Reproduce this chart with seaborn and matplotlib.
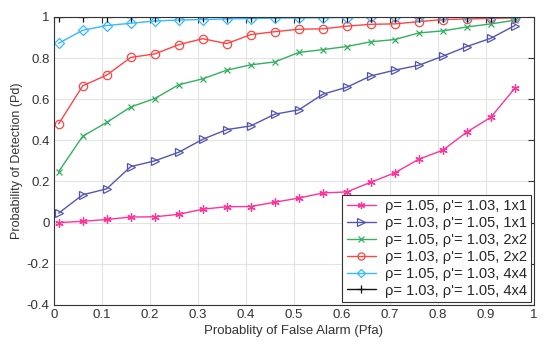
import numpy as np
import pandas as pd
import matplotlib
matplotlib.use("Agg")
import matplotlib.pyplot as plt
import seaborn as sns

pfa = [0.01, 0.06, 0.11, 0.16, 0.21, 0.26, 0.31, 0.36, 0.41, 0.46,
       0.51, 0.56, 0.61, 0.66, 0.71, 0.76, 0.81, 0.86, 0.91, 0.96]

pd_a = [0.0, 0.006, 0.015, 0.027, 0.028, 0.04, 0.065, 0.077, 0.078, 0.099,
        0.119, 0.144, 0.149, 0.196, 0.242, 0.308, 0.352, 0.44, 0.512, 0.653]
pd_b = [0.046, 0.135, 0.164, 0.272, 0.300, 0.342, 0.405, 0.452, 0.470, 0.527,
        0.548, 0.624, 0.658, 0.713, 0.741, 0.765, 0.809, 0.856, 0.896, 0.958]
pd_c = [0.248, 0.420, 0.487, 0.562, 0.603, 0.670, 0.699, 0.741, 0.767, 0.781,
        0.827, 0.841, 0.856, 0.879, 0.890, 0.922, 0.932, 0.951, 0.966, 0.984]
pd_d = [0.480, 0.665, 0.717, 0.803, 0.820, 0.865, 0.894, 0.870, 0.914, 0.928,
        0.940, 0.942, 0.955, 0.964, 0.966, 0.977, 0.987, 0.990, 0.993, 0.995]
pd_e = [0.872, 0.935, 0.958, 0.969, 0.980, 0.985, 0.987, 0.990, 0.992, 0.994,
        0.995, 0.996, 0.997, 0.998, 0.998, 0.999, 0.999, 0.999, 1.0, 1.0]
pd_f = [0.999, 1.0, 1.0, 1.0, 1.0, 1.0, 1.0, 1.0, 1.0, 1.0,
        1.0, 1.0, 1.0, 1.0, 1.0, 1.0, 1.0, 1.0, 1.0, 1.0]

labels = ["ρ= 1.05, ρ'= 1.03, 1x1", "ρ= 1.03, ρ'= 1.05, 1x1",
          "ρ= 1.05, ρ'= 1.03, 2x2", "ρ= 1.03, ρ'= 1.05, 2x2",
          "ρ= 1.05, ρ'= 1.03, 4x4", "ρ= 1.03, ρ'= 1.05, 4x4"]
series = [pd_a, pd_b, pd_c, pd_d, pd_e, pd_f]

xticks = [0, 0.1, 0.2, 0.3, 0.4, 0.5, 0.6, 0.7, 0.8, 0.9, 1]
xticklabels = ["0", "0.1", "0.2", "0.3", "0.4", "0.5", "0.6", "0.7", "0.8", "0.9", "1"]
yticks = [-0.4, -0.2, 0, 0.2, 0.4, 0.6, 0.8, 1]
yticklabels = ["-0.4", "-0.2", "0", "0.2", "0.4", "0.6", "0.8", "1"]

colors = ["#ff3399", "#5555b0", "#33b060", "#ff4444", "#33bbff", "#111111"]
markers = [(6, 2, 0), ">", "x", "o", "D", "+"]
msizes = [6, 6, 5, 6, 5, 7]
filled = [True, False, True, False, False, True]

sns.set_theme(style="whitegrid")
plt.rcParams["font.family"] = ["Liberation Sans", "DejaVu Sans"]

fig = plt.figure(figsize=(5.5, 3.52), dpi=100)
ax = fig.add_axes([0.098, 0.134, 0.873, 0.818])

for lab, ys, c, m, ms, f in zip(labels, series, colors, markers, msizes, filled):
    df = pd.DataFrame({"Pfa": pfa, "Pd": ys})
    kw = dict(marker=m, markersize=ms, color=c, linewidth=1.0,
              markeredgecolor=c, markeredgewidth=0.9, label=lab)
    if not f:
        kw["markerfacecolor"] = "none"
    sns.lineplot(data=df, x="Pfa", y="Pd", ax=ax, **kw)

ax.set_xlim(0, 1)
ax.set_ylim(-0.4, 1)
ax.set_xticks(xticks)
ax.set_xticklabels(xticklabels)
ax.set_yticks(yticks)
ax.set_yticklabels(yticklabels)
ax.set_xlabel("Probablity of False Alarm (Pfa)", fontsize=9.5, color="#333333", labelpad=3)
ax.set_ylabel("Probability of Detection (Pd)", fontsize=9, color="#333333", labelpad=3)
ax.tick_params(axis="both", labelsize=9.5, colors="#333333", direction="in",
               length=4, width=0.8, top=True, right=True, pad=3)
ax.grid(True, color="#e3e3e3", linewidth=0.8)
for s in ax.spines.values():
    s.set_visible(True)
    s.set_color("#333333")
    s.set_linewidth(0.8)

leg = ax.legend(loc="lower right", fontsize=10.5, frameon=True, fancybox=False,
                edgecolor="#333333", framealpha=1, handlelength=2.0,
                borderaxespad=0.2, labelspacing=0.2, handletextpad=0.6,
                borderpad=0.3, markerscale=0.85)
leg.get_frame().set_linewidth(0.8)

fig.savefig("out.png", dpi=100)
